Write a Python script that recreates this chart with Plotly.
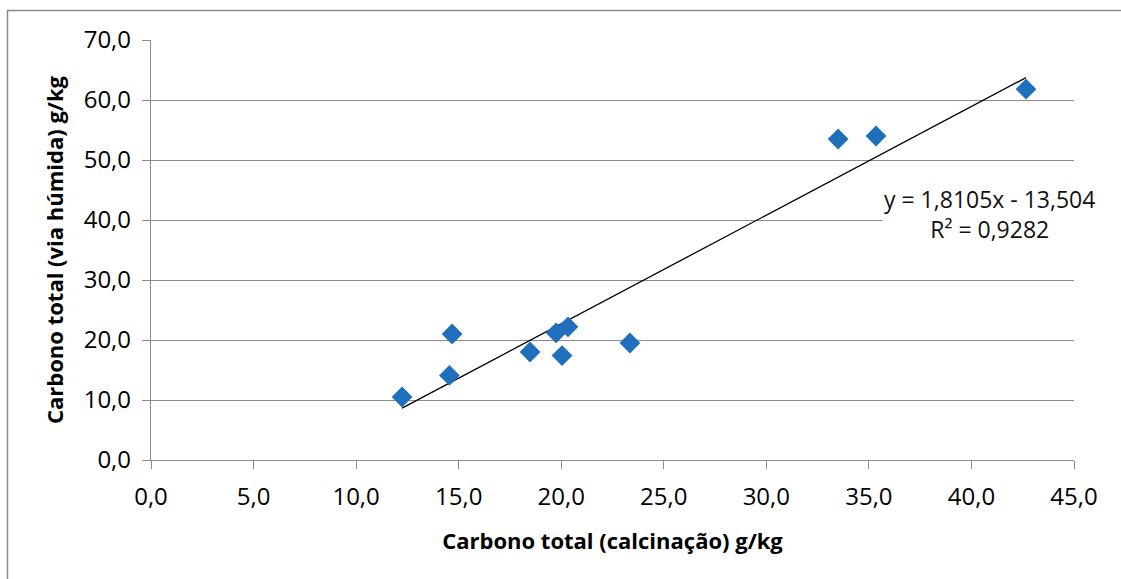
import plotly.graph_objects as go

x_calc = [12.24, 14.55, 14.68, 18.48, 19.75, 20.04, 20.33, 23.35, 33.5, 35.35, 42.66]
y_humida = [10.5, 14.1, 21.0, 18.0, 21.2, 17.4, 22.2, 19.5, 53.5, 54.0, 61.8]
slope = 1.8105
intercept = -13.504
x_ticks = [0, 5, 10, 15, 20, 25, 30, 35, 40, 45]
x_ticklabels = ["0,0", "5,0", "10,0", "15,0", "20,0", "25,0", "30,0", "35,0", "40,0", "45,0"]
y_ticks = [0, 10, 20, 30, 40, 50, 60, 70]
y_ticklabels = ["0,0", "10,0", "20,0", "30,0", "40,0", "50,0", "60,0", "70,0"]

FONT = "Open Sans"

fig = go.Figure()
xmin, xmax = min(x_calc), max(x_calc)
fig.add_trace(go.Scatter(
    x=[xmin, xmax], y=[slope * xmin + intercept, slope * xmax + intercept],
    mode="lines", line=dict(color="black", width=1.3), hoverinfo="skip"))
fig.add_trace(go.Scatter(
    x=x_calc, y=y_humida, mode="markers",
    marker=dict(symbol="diamond", size=16, color="#1f6fbd")))

fig.add_annotation(x=40.9, y=41, xref="x", yref="y",
                   text="y = 1,8105x - 13,504<br>R² = 0,9282",
                   showarrow=False, align="center", bgcolor="white",
                   font=dict(family=FONT, size=23, color="#111"))

W, H = 1121, 579
ml, mt = 151, 40
pw, ph = 923, 420
mr = W - ml - pw
mb = H - mt - ph
def px(xp):
    return (xp - ml) / pw
def py(yp):
    return (mt + ph - yp) / ph

fig.add_shape(type="line", xref="paper", yref="paper",
              x0=px(7.5), x1=px(7.5), y0=py(10), y1=py(620),
              line=dict(color="#8a8a8a", width=1.5))
fig.add_shape(type="line", xref="paper", yref="paper",
              x0=px(7), x1=px(1160), y0=py(10.5), y1=py(10.5),
              line=dict(color="#8a8a8a", width=1.5))

fig.update_layout(
    width=W, height=H,
    margin=dict(l=ml, r=mr, t=mt, b=mb),
    paper_bgcolor="white", plot_bgcolor="white",
    showlegend=False,
    font=dict(family=FONT, size=24, color="#000"),
    xaxis=dict(range=[0, 45], tickvals=x_ticks, ticktext=x_ticklabels,
               showgrid=False, zeroline=False, showline=True,
               linecolor="#8c8c8c", linewidth=1.3,
               ticks="outside", ticklen=8, tickcolor="#8c8c8c",
               tickfont=dict(size=24, color="#000"), ticklabelstandoff=7,
               title=dict(text="<b>Carbono total (calcinação) g/kg</b>",
                          font=dict(size=22, color="#000"), standoff=22)),
    yaxis=dict(range=[0, 70], tickvals=y_ticks, ticktext=y_ticklabels,
               showgrid=True, gridcolor="#8c8c8c", gridwidth=1.3,
               zeroline=False, showline=True,
               linecolor="#8c8c8c", linewidth=1.3,
               ticks="outside", ticklen=8, tickcolor="#8c8c8c",
               tickfont=dict(size=24, color="#000"), ticklabelstandoff=6,
               title=dict(text="<b>Carbono total (via húmida) g/kg</b>",
                          font=dict(size=22, color="#000"), standoff=13)),
)

fig.write_html("out.html", config={"displayModeBar": False},
               post_script="document.body.style.margin='0';")
